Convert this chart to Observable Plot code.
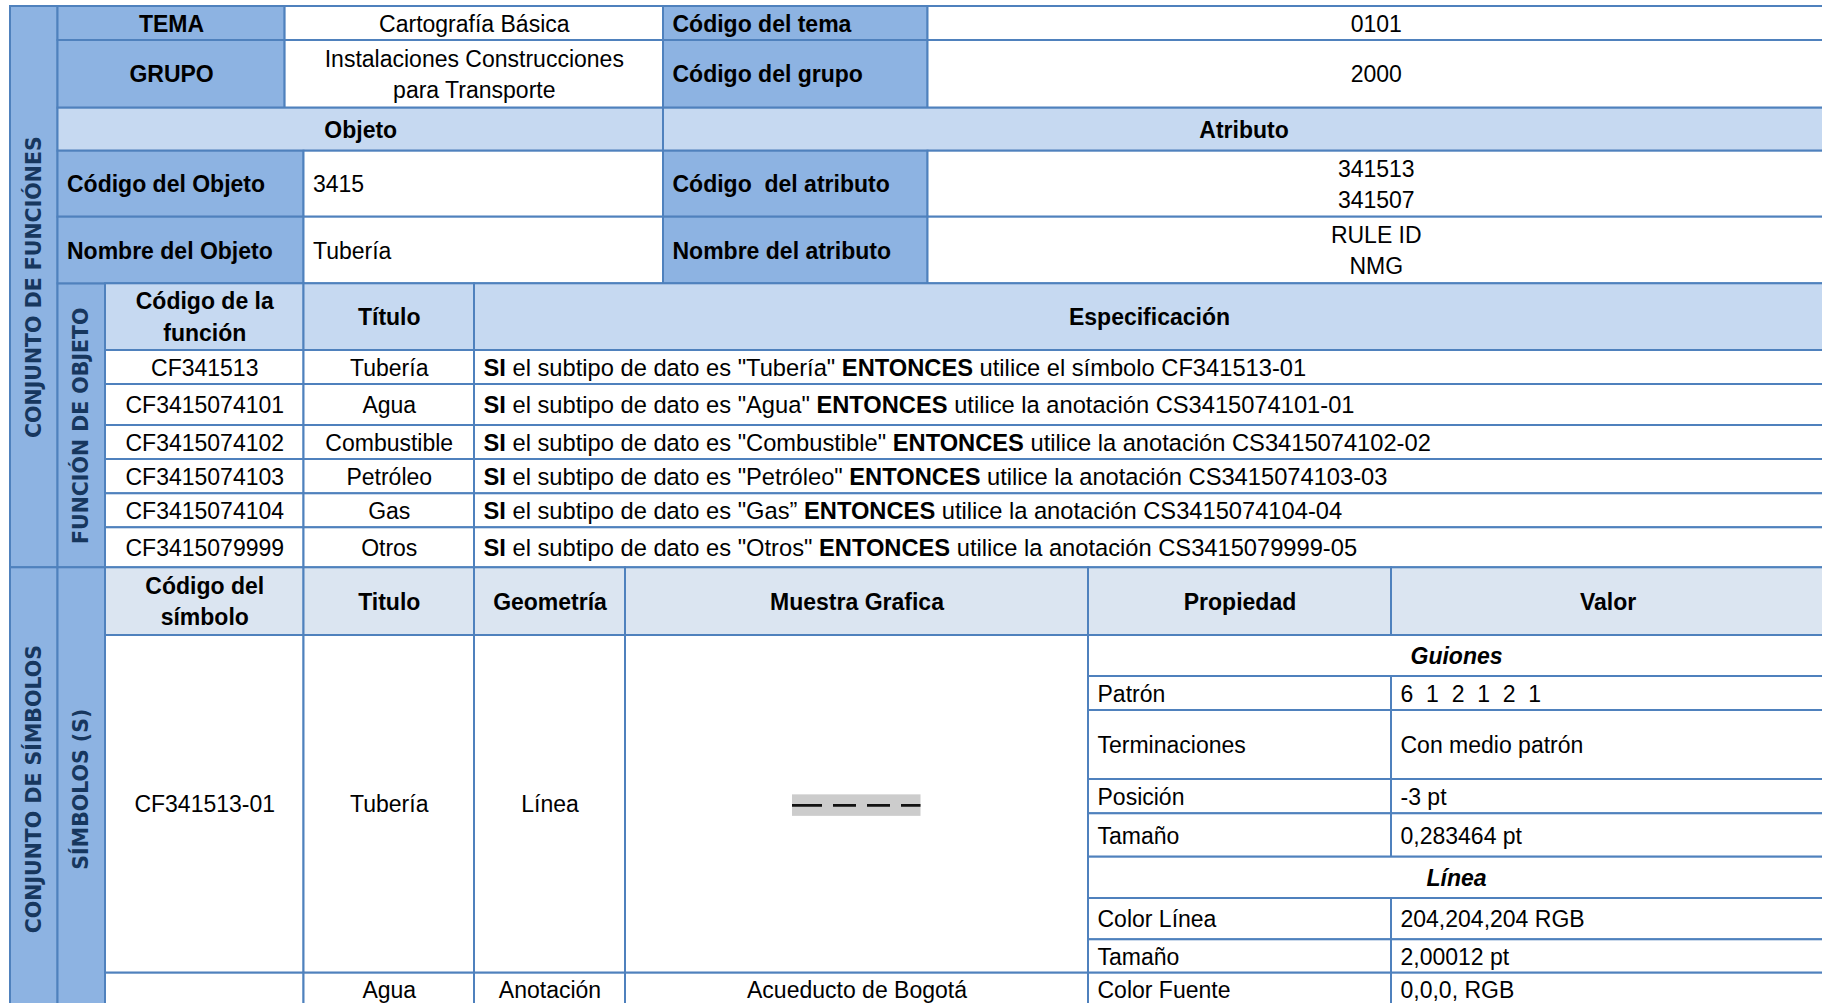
<!DOCTYPE html>
<html>
<head>
<meta charset="utf-8">
<script src="https://cdn.jsdelivr.net/npm/d3@7"></script>
<script src="https://cdn.jsdelivr.net/npm/@observablehq/plot@0.6"></script>
<style>
html, body { margin: 0; padding: 0; background: #fff; overflow: hidden; }
#chart svg { display: block; }
</style>
</head>
<body>
<div id="chart"></div>
<script>
// ---------- DATA (texts of the table) ----------
const sectionTitles = ["CONJUNTO DE FUNCIÓNES", "CONJUNTO DE SÍMBOLOS"];
const subSectionTitles = ["FUNCIÓN DE OBJETO", "SÍMBOLOS (S)"];

const temaLabels = ["TEMA", "GRUPO"];
const temaValues = ["Cartografía Básica", "Instalaciones Construcciones\npara Transporte"];
const temaCodeLabels = ["Código del tema", "Código del grupo"];
const temaCodeValues = ["0101", "2000"];

const blockHeaders = ["Objeto", "Atributo"];
const objetoLabels = ["Código del Objeto", "Nombre del Objeto"];
const objetoValues = ["3415", "Tubería"];
const atributoLabels = ["Código  del atributo", "Nombre del atributo"];
const atributoValues = ["341513\n341507", "RULE ID\nNMG"];

const funcHeaders = ["Código de la\nfunción", "Título", "Especificación"];
const funcCodes = ["CF341513", "CF3415074101", "CF3415074102", "CF3415074103", "CF3415074104", "CF3415079999"];
const funcTitles = ["Tubería", "Agua", "Combustible", "Petróleo", "Gas", "Otros"];
const funcSubtypes = ["\"Tubería\"", "\"Agua\"", "\"Combustible\"", "\"Petróleo\"", "\"Gas\u201d", "\"Otros\""];
const funcActions = [
  "utilice el símbolo CF341513-01",
  "utilice la anotación CS3415074101-01",
  "utilice la anotación CS3415074102-02",
  "utilice la anotación CS3415074103-03",
  "utilice la anotación CS3415074104-04",
  "utilice la anotación CS3415079999-05"
];

const symHeaders = ["Código del\nsímbolo", "Titulo", "Geometría", "Muestra Grafica", "Propiedad", "Valor"];
const symCodes = ["CF341513-01", ""];
const symTitles = ["Tubería", "Agua"];
const symGeoms = ["Línea", "Anotación"];
const symSamples = ["", "Acueducto de Bogotá"];

const propGroups = ["Guiones", "Línea"];
const propNames = ["Patrón", "Terminaciones", "Posición", "Tamaño", "Color Línea", "Tamaño", "Color Fuente"];
const propValues = ["6  1  2  1  2  1", "Con medio patrón", "-3 pt", "0,283464 pt", "204,204,204 RGB", "2,00012 pt", "0,0,0, RGB"];

// ---------- LAYOUT ----------
const W = 1822, H = 1003;
const X = {L: 10, A: 57.5, B: 105, C: 303.5, D: 474, E: 625, F: 1088, G: 1391, R: 1824, T1: 284.6, T2: 663, T3: 927.5};
const Yt = [6, 40, 107.7, 150.7, 216.7, 283.3];          // tema, grupo, headers, objeto rows
const Yf = [283.3, 350, 384, 425, 459, 493.3, 527.3, 567.3]; // function header + rows
const Ys = [567.3, 635, 972.7, 1010];                     // symbol header, row 1, row 2
const Yp = [635, 676, 710, 779, 813.3, 856.7, 898, 939.3, 972.7, 1007]; // property rows
const groupBefore = [0, 4]; // property index before which a group header row appears

const MED = "#8DB3E2", LIGHT = "#C6D9F1", PALE = "#DBE5F1", WHITE = "#FFFFFF", BORDER = "#4F81BD";
const PAD = 9;

const cells = [];
const texts = [];
function cell(x1, x2, y1, y2, fill, text, kind) {
  cells.push({x1, x2, y1, y2, fill});
  if (text !== undefined && text !== "") {
    const start = kind.endsWith("start");
    texts.push({x: start ? x1 + PAD : (x1 + x2) / 2, y: (y1 + y2) / 2, text, kind});
  }
}

// section columns
cell(X.L, X.A, Yt[0], Yf[7], MED, sectionTitles[0], "rot");
cell(X.L, X.A, Ys[0], Ys[3], MED, sectionTitles[1], "rot");
cell(X.A, X.B, Yf[0], Yf[7], MED, subSectionTitles[0], "rot");
cell(X.A, X.B, Ys[0], Ys[3], MED, subSectionTitles[1], "rot");

// tema / grupo
temaLabels.forEach((t, i) => {
  const y1 = Yt[i], y2 = Yt[i + 1];
  cell(X.A, X.T1, y1, y2, MED, t, "b-mid");
  cell(X.T1, X.T2, y1, y2, WHITE, temaValues[i], "n-mid");
  cell(X.T2, X.T3, y1, y2, MED, temaCodeLabels[i], "b-start");
  cell(X.T3, X.R, y1, y2, WHITE, temaCodeValues[i], "n-mid");
});
// objeto / atributo header
cell(X.A, X.T2, Yt[2], Yt[3], LIGHT, blockHeaders[0], "b-mid");
cell(X.T2, X.R, Yt[2], Yt[3], LIGHT, blockHeaders[1], "b-mid");
objetoLabels.forEach((t, i) => {
  const y1 = Yt[3 + i], y2 = Yt[4 + i];
  cell(X.A, X.C, y1, y2, MED, t, "b-start");
  cell(X.C, X.T2, y1, y2, WHITE, objetoValues[i], "n-start");
  cell(X.T2, X.T3, y1, y2, MED, atributoLabels[i], "b-start");
  cell(X.T3, X.R, y1, y2, WHITE, atributoValues[i], "n-mid");
});
// function table
const fcols = [X.B, X.C, X.D, X.R];
funcHeaders.forEach((t, j) => cell(fcols[j], fcols[j + 1], Yf[0], Yf[1], LIGHT, t, "b-mid"));
const specRows = [];
funcCodes.forEach((c, i) => {
  const y1 = Yf[1 + i], y2 = Yf[2 + i];
  cell(X.B, X.C, y1, y2, WHITE, c, "n-mid");
  cell(X.C, X.D, y1, y2, WHITE, funcTitles[i], "n-mid");
  const full = "SI el subtipo de dato es " + funcSubtypes[i] + " ENTONCES " + funcActions[i];
  specRows.push(i);
  cell(X.D, X.R, y1, y2, WHITE, full, "spec-start");
});
// symbol table
const scols = [X.B, X.C, X.D, X.E, X.F, X.G, X.R];
symHeaders.forEach((t, j) => cell(scols[j], scols[j + 1], Ys[0], Ys[1], PALE, t, "b-mid"));
symCodes.forEach((c, i) => {
  const y1 = Ys[1 + i], y2 = i === 0 ? Ys[2] : Yp[9];
  cell(X.B, X.C, y1, i === 0 ? y2 : Ys[3], WHITE, c, "n-mid");
  cell(X.C, X.D, y1, y2, WHITE, symTitles[i], "n-mid");
  cell(X.D, X.E, y1, y2, WHITE, symGeoms[i], "n-mid");
  cell(X.E, X.F, y1, y2, WHITE, symSamples[i], "n-mid");
});
// properties
let r = 0;
propNames.forEach((p, i) => {
  const g = groupBefore.indexOf(i);
  if (g >= 0) { cell(X.F, X.R, Yp[r], Yp[r + 1], WHITE, propGroups[g], "bi-mid"); r++; }
  cell(X.F, X.G, Yp[r], Yp[r + 1], WHITE, p, "n-start");
  cell(X.G, X.R, Yp[r], Yp[r + 1], WHITE, propValues[i], "n-start");
  r++;
});

// graphic sample (dashed line on grey band) centred in the "Muestra" cell of row 1
const sample = [{cx: (X.E + X.F) / 2, cy: (Ys[1] + Ys[2]) / 2 + 1}];

const FONT = "'Liberation Sans', Arial, sans-serif";
const FS = 23;
const fix = d => d.text.replace(/  /g, "\u00a0 ");
const textMark = (kind, opts) => Plot.text(texts.filter(d => d.kind === kind), {
  x: "x", y: "y", text: fix, fontSize: FS, lineHeight: 1.37, dy: -2, fill: "#000", fontFamily: FONT, ...opts
});

const plot = Plot.plot({
  width: W, height: H, margin: 0,
  x: {domain: [0, W], range: [0, W], axis: null},
  y: {domain: [0, H], range: [0, H], axis: null},
  color: {type: "identity"},
  style: {background: "#fff", fontFamily: FONT, overflow: "hidden"},
  marks: [
    Plot.rect(cells, {x1: "x1", x2: "x2", y1: "y1", y2: "y2", fill: "fill", stroke: BORDER, strokeWidth: 2}),
    Plot.rect(sample, {x1: d => d.cx - 64.5, x2: d => d.cx + 64, y1: d => d.cy - 10.5, y2: d => d.cy + 11, fill: "#CCCCCC"}),
    Plot.ruleY(sample, {y: "cy", x1: d => d.cx - 64.5, x2: d => d.cx + 64, stroke: "#111", strokeWidth: 2.8, strokeDasharray: "30,11,23,11,23,11"}),
    textMark("n-mid", {}),
    textMark("n-start", {textAnchor: "start"}),
    textMark("b-mid", {fontWeight: "bold"}),
    textMark("b-start", {textAnchor: "start", fontWeight: "bold"}),
    textMark("bi-mid", {fontWeight: "bold", fontStyle: "italic"}),
    textMark("spec-start", {textAnchor: "start", className: "spec", fontSize: 23.7}),
    Plot.text(texts.filter(d => d.kind === "rot"), {x: "x", y: "y", text: "text", rotate: -90, fontSize: 20.5, fontWeight: "bold", fontFamily: "'DejaVu Sans', Verdana, sans-serif", fill: "#17375E"})
  ]
});
document.getElementById("chart").appendChild(plot);

// rich formatting of the specification sentences (bold SI / ENTONCES)
const ns = "http://www.w3.org/2000/svg";
plot.querySelectorAll("g.spec text").forEach((el, k) => {
  const i = specRows[k];
  el.textContent = "";
  const add = (s, bold) => {
    const t = document.createElementNS(ns, "tspan");
    if (bold) t.setAttribute("font-weight", "bold");
    t.textContent = s;
    el.appendChild(t);
  };
  add("SI", true);
  add(" el subtipo de dato es " + funcSubtypes[i] + " ", false);
  add("ENTONCES", true);
  add(" " + funcActions[i], false);
});
</script>
</body>
</html>
